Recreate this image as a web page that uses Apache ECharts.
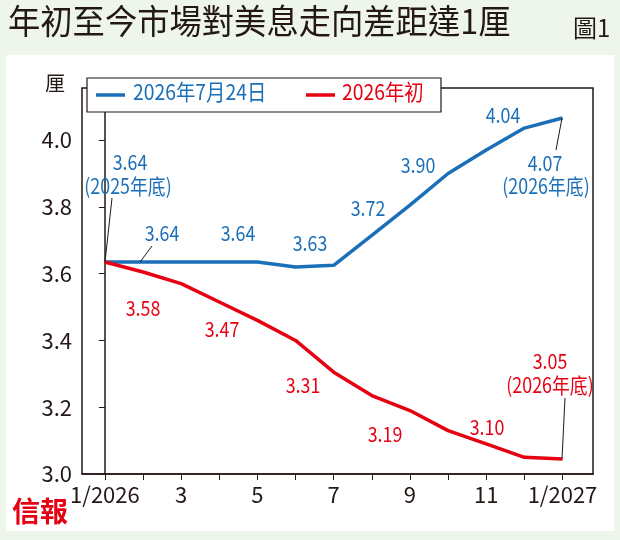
<!DOCTYPE html>
<html><head><meta charset="utf-8">
<script src="https://cdn.jsdelivr.net/npm/echarts@6/dist/echarts.min.js"></script>
<style>html,body{margin:0;padding:0;background:#eef5ea;}#main{width:620px;height:540px;}</style>
</head><body><div id="main"></div>
<script>
// 月份序號 0 = 1/2026, 12 = 1/2027
var months = [0,1,2,3,4,5,6,7,8,9,10,11,12];
var xLabels = {0:'1/2026',2:'3',4:'5',6:'7',8:'9',10:'11',12:'1/2027'};
var julySeries = [3.635,3.635,3.635,3.635,3.635,3.62,3.625,3.715,3.805,3.90,3.97,4.036,4.066];
var startSeries = [3.635,3.605,3.57,3.515,3.46,3.40,3.305,3.235,3.19,3.13,3.09,3.05,3.045];
var blue = '#1a6fb8', red = '#e60012', ink = '#231815';

function pairs(arr){ var r=[]; for(var i=0;i<arr.length;i++){ r.push([months[i],arr[i]]); } return r; }

var font = '"Liberation Sans Narrow","Noto Sans CJK TC",sans-serif';
// 標籤以中心點定位, 橫向壓縮模擬窄體字
function txt(x,y,s,c){
	return {type:'text',x:x,y:y,scaleX:0.85,
		style:{text:s,fill:c,font:'21px "Noto Sans CJK TC",sans-serif',textAlign:'center',textVerticalAlign:'middle'},z:8};
}
function ln(x1,y1,x2,y2){
	return {type:'line',shape:{x1:x1,y1:y1,x2:x2,y2:y2},style:{stroke:ink,lineWidth:1},z:5};
}

var myChart = echarts.init(document.getElementById('main'));
var option = {
	backgroundColor:'#eef5ea',
	animation:false,
	grid:{left:82,right:27,top:88,bottom:66,show:true,borderColor:ink,borderWidth:1.5,backgroundColor:'#fff'},
	xAxis:{type:'value',min:-0.6,max:12.8,interval:1,
		axisLine:{lineStyle:{color:ink,width:1.5}},
		axisTick:{show:true,length:6,lineStyle:{color:ink},customValues:months},
		axisLabel:{customValues:[0,2,4,6,8,10,12],color:ink,fontSize:22,fontFamily:font,margin:10,
			formatter:function(v){return xLabels[v]||'';}},
		splitLine:{show:false}},
	yAxis:{type:'value',min:3.0,max:4.156,interval:0.2,
		axisLine:{show:true,lineStyle:{color:ink,width:1.5}},
		axisTick:{show:true,length:6,lineStyle:{color:ink},customValues:[3.0,3.2,3.4,3.6,3.8,4.0]},
		axisLabel:{customValues:[3.0,3.2,3.4,3.6,3.8,4.0],color:ink,fontSize:22,fontFamily:font,margin:10,
			formatter:function(v){return v.toFixed(1);}},
		splitLine:{show:false}},
	series:[
		{name:'2026年7月24日',type:'line',data:pairs(julySeries),symbol:'none',lineStyle:{color:blue,width:3.5},z:3},
		{name:'2026年初',type:'line',data:pairs(startSeries),symbol:'none',lineStyle:{color:red,width:3.5},z:3}
	],
	graphic:[
		{type:'rect',shape:{x:6,y:55,width:608,height:476},style:{fill:'#fff'},z:-10},
		{type:'text',x:8,y:4,scaleX:0.95,style:{text:'年初至今市場對美息走向差距達1厘',fill:ink,font:'34px "Noto Sans CJK TC",sans-serif'}},
		{type:'text',x:573,y:16,style:{text:'圖1',fill:ink,font:'24px "Noto Sans CJK TC",sans-serif'}},
		{type:'text',x:45,y:73,style:{text:'厘',fill:ink,font:'20px "Noto Sans CJK TC",sans-serif'}},
		{type:'rect',shape:{x:87,y:78,width:354,height:34},style:{fill:'#fff',stroke:ink,lineWidth:1.2},z:6},
		{type:'line',shape:{x1:96,y1:95,x2:125,y2:95},style:{stroke:blue,lineWidth:3.5},z:7},
		{type:'text',x:133,y:81,scaleX:0.88,style:{text:'2026年7月24日',fill:blue,font:'22px "Noto Sans CJK TC",sans-serif'},z:7},
		{type:'line',shape:{x1:306,y1:95,x2:335,y2:95},style:{stroke:red,lineWidth:3.5},z:7},
		{type:'text',x:342,y:81,scaleX:0.88,style:{text:'2026年初',fill:red,font:'22px "Noto Sans CJK TC",sans-serif'},z:7},
		{type:'text',x:12,y:497,style:{text:'信報',fill:red,font:'bold 28px "Noto Sans CJK TC",serif'}},
		txt(130,162,'3.64',blue), txt(128,186,'(2025年底)',blue),
		txt(162,233,'3.64',blue), txt(238,233,'3.64',blue), txt(310,243,'3.63',blue),
		txt(368,208,'3.72',blue), txt(418,165,'3.90',blue), txt(503,115,'4.04',blue),
		txt(545,163,'4.07',blue), txt(546,186,'(2026年底)',blue),
		txt(143,308,'3.58',red), txt(222,329,'3.47',red), txt(303,385,'3.31',red),
		txt(385,434,'3.19',red), txt(487,427,'3.10',red),
		txt(550,361,'3.05',red), txt(550,385,'(2026年底)',red),
		ln(105,262,112,198), ln(140,262,152,246), ln(562,118,556,150), ln(562,459,565,398)
	]
};
myChart.setOption(option);
</script></body></html>
